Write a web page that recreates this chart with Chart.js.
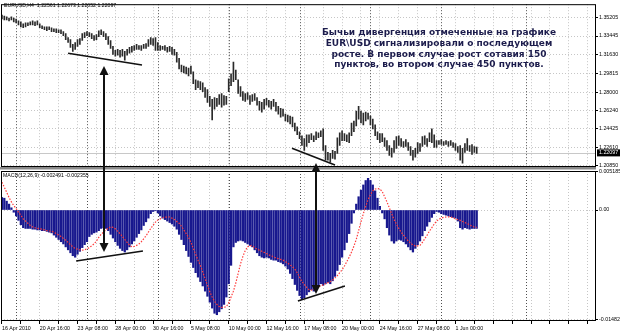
<!DOCTYPE html>
<html>
<head>
<meta charset="utf-8">
<script src="https://cdn.jsdelivr.net/npm/chart.js@4.4.1/dist/chart.umd.min.js"></script>
<style>
  html, body { margin: 0; padding: 0; background: #fff; }
  #wrap { position: relative; width: 620px; height: 334px; overflow: hidden; }
  #wrap canvas { position: absolute; left: 0; top: 0; }
  #note {
    position: absolute; left: 289px; top: 27px; width: 300px; z-index: 3;
    text-align: center; font: bold 9px/10.8px "DejaVu Sans"; color: #1c1c4c;
  }
</style>
</head>
<body>
<div id="wrap">
  <canvas id="price" width="620" height="334"></canvas>
  <canvas id="macd" width="620" height="334"></canvas>
  <div id="note">Бычьи дивергенция отмеченные на графике<br>EUR\USD сигнализировали о последующем<br>росте. В первом случае рост сотавия 150<br>пунктов, во втором случае 450 пунктов.</div>
</div>
<script>
// H4 bars, 16 Apr 2010 .. 2 Jun 2010
const timeLabels = ['16 Apr 2010', '20 Apr 16:00', '23 Apr 08:00', '28 Apr 00:00', '30 Apr 16:00',
  '5 May 08:00', '10 May 00:00', '12 May 16:00', '17 May 08:00', '20 May 00:00',
  '24 May 16:00', '27 May 08:00', '1 Jun 00:00'];

const hi = [
  1.3549, 1.3539, 1.3530, 1.3520, 1.3530, 1.3520, 1.3510, 1.3491, 1.3482, 1.3463,
  1.3472, 1.3472, 1.3482, 1.3491, 1.3482, 1.3491, 1.3463, 1.3444, 1.3434, 1.3434,
  1.3434, 1.3425, 1.3415, 1.3415, 1.3406, 1.3406, 1.3387, 1.3368, 1.3329, 1.3310,
  1.3263, 1.3282, 1.3310, 1.3320, 1.3368, 1.3377, 1.3387, 1.3377, 1.3368, 1.3349,
  1.3358, 1.3396, 1.3406, 1.3387, 1.3368, 1.3339, 1.3301, 1.3244, 1.3206, 1.3215,
  1.3206, 1.3215, 1.3196, 1.3215, 1.3234, 1.3244, 1.3253, 1.3263, 1.3253, 1.3253,
  1.3263, 1.3272, 1.3310, 1.3329, 1.3320, 1.3329, 1.3282, 1.3253, 1.3244, 1.3253,
  1.3234, 1.3244, 1.3234, 1.3215, 1.3187, 1.3129, 1.3063, 1.3053, 1.3044, 1.3034,
  1.3053, 1.2996, 1.2920, 1.2910, 1.2901, 1.2891, 1.2843, 1.2824, 1.2758, 1.2729,
  1.2748, 1.2739, 1.2777, 1.2786, 1.2767, 1.2758, 1.2929, 1.2977, 1.3091, 1.3015,
  1.2920, 1.2853, 1.2805, 1.2786, 1.2795, 1.2767, 1.2777, 1.2786, 1.2748, 1.2710,
  1.2700, 1.2729, 1.2739, 1.2720, 1.2710, 1.2729, 1.2700, 1.2662, 1.2643, 1.2634,
  1.2586, 1.2577, 1.2567, 1.2557, 1.2500, 1.2462, 1.2415, 1.2376, 1.2348, 1.2386,
  1.2386, 1.2396, 1.2376, 1.2415, 1.2405, 1.2424, 1.2443, 1.2281, 1.2214, 1.2205,
  1.2234, 1.2224, 1.2357, 1.2405, 1.2424, 1.2396, 1.2386, 1.2405, 1.2500, 1.2519,
  1.2615, 1.2662, 1.2615, 1.2596, 1.2605, 1.2596, 1.2567, 1.2538, 1.2481, 1.2415,
  1.2396, 1.2396, 1.2357, 1.2329, 1.2281, 1.2253, 1.2329, 1.2367, 1.2376, 1.2348,
  1.2319, 1.2338, 1.2310, 1.2272, 1.2234, 1.2253, 1.2310, 1.2300, 1.2367, 1.2376,
  1.2348, 1.2405, 1.2443, 1.2386, 1.2329, 1.2329, 1.2338, 1.2319, 1.2329, 1.2319,
  1.2329, 1.2310, 1.2300, 1.2272, 1.2281, 1.2253, 1.2300, 1.2348, 1.2281, 1.2291,
  1.2272, 1.2267];

const lo = [
  1.3510, 1.3501, 1.3501, 1.3491, 1.3501, 1.3482, 1.3472, 1.3453, 1.3434, 1.3425,
  1.3434, 1.3444, 1.3453, 1.3453, 1.3444, 1.3453, 1.3425, 1.3415, 1.3406, 1.3396,
  1.3406, 1.3387, 1.3387, 1.3377, 1.3377, 1.3368, 1.3349, 1.3310, 1.3282, 1.3234,
  1.3196, 1.3215, 1.3244, 1.3263, 1.3301, 1.3329, 1.3349, 1.3339, 1.3320, 1.3301,
  1.3310, 1.3339, 1.3358, 1.3339, 1.3310, 1.3263, 1.3225, 1.3167, 1.3148, 1.3158,
  1.3139, 1.3148, 1.3110, 1.3158, 1.3177, 1.3187, 1.3206, 1.3215, 1.3215, 1.3206,
  1.3225, 1.3225, 1.3244, 1.3263, 1.3253, 1.3206, 1.3206, 1.3206, 1.3215, 1.3206,
  1.3187, 1.3196, 1.3167, 1.3158, 1.3091, 1.3024, 1.2996, 1.2986, 1.2977, 1.2958,
  1.2977, 1.2882, 1.2824, 1.2843, 1.2824, 1.2805, 1.2748, 1.2700, 1.2662, 1.2529,
  1.2634, 1.2662, 1.2681, 1.2653, 1.2672, 1.2681, 1.2805, 1.2863, 1.2901, 1.2920,
  1.2786, 1.2758, 1.2720, 1.2710, 1.2729, 1.2681, 1.2710, 1.2720, 1.2672, 1.2624,
  1.2605, 1.2634, 1.2672, 1.2653, 1.2634, 1.2662, 1.2615, 1.2586, 1.2557, 1.2567,
  1.2519, 1.2510, 1.2491, 1.2462, 1.2424, 1.2386, 1.2348, 1.2281, 1.2234, 1.2272,
  1.2310, 1.2338, 1.2319, 1.2338, 1.2357, 1.2367, 1.2234, 1.2138, 1.2138, 1.2119,
  1.2157, 1.2148, 1.2205, 1.2281, 1.2329, 1.2329, 1.2319, 1.2310, 1.2376, 1.2415,
  1.2472, 1.2538, 1.2500, 1.2481, 1.2519, 1.2538, 1.2481, 1.2443, 1.2376, 1.2338,
  1.2310, 1.2319, 1.2272, 1.2234, 1.2186, 1.2167, 1.2214, 1.2253, 1.2281, 1.2272,
  1.2262, 1.2272, 1.2234, 1.2186, 1.2138, 1.2167, 1.2205, 1.2224, 1.2272, 1.2291,
  1.2272, 1.2319, 1.2310, 1.2262, 1.2262, 1.2291, 1.2291, 1.2281, 1.2291, 1.2272,
  1.2281, 1.2262, 1.2234, 1.2214, 1.2138, 1.2110, 1.2214, 1.2234, 1.2224, 1.2195,
  1.2214, 1.2205];

const macd = [
  0.0017, 0.0016, 0.0012, 0.0008, 0.0003, -0.0003, -0.0008, -0.0014, -0.0020, -0.0024,
  -0.0025, -0.0025, -0.0025, -0.0026, -0.0026, -0.0027, -0.0027, -0.0028, -0.0028, -0.0029,
  -0.0030, -0.0031, -0.0034, -0.0037, -0.0040, -0.0043, -0.0046, -0.0050, -0.0054, -0.0058,
  -0.0062, -0.0064, -0.0060, -0.0056, -0.0051, -0.0047, -0.0043, -0.0036, -0.0033, -0.0031,
  -0.0030, -0.0028, -0.0025, -0.0024, -0.0025, -0.0028, -0.0033, -0.0038, -0.0043, -0.0048,
  -0.0052, -0.0055, -0.0057, -0.0054, -0.0050, -0.0046, -0.0042, -0.0037, -0.0032, -0.0027,
  -0.0021, -0.0016, -0.0011, -0.0005, -0.0002, -0.0001, -0.0004, -0.0008, -0.0011, -0.0013,
  -0.0015, -0.0017, -0.0019, -0.0022, -0.0026, -0.0033, -0.0040, -0.0047, -0.0055, -0.0063,
  -0.0071, -0.0078, -0.0085, -0.0091, -0.0097, -0.0103, -0.0110, -0.0117, -0.0125, -0.0133,
  -0.0140, -0.0142, -0.0138, -0.0134, -0.0128, -0.0118, -0.0100, -0.0075, -0.0050, -0.0044,
  -0.0042, -0.0041, -0.0042, -0.0044, -0.0046, -0.0048, -0.0050, -0.0054, -0.0058, -0.0062,
  -0.0064, -0.0065, -0.0064, -0.0065, -0.0067, -0.0068, -0.0068, -0.0070, -0.0071, -0.0073,
  -0.0076, -0.0080, -0.0086, -0.0093, -0.0101, -0.0109, -0.0116, -0.0121, -0.0119, -0.0115,
  -0.0111, -0.0108, -0.0110, -0.0108, -0.0104, -0.0100, -0.0102, -0.0100, -0.0098, -0.0100,
  -0.0096, -0.0090, -0.0082, -0.0074, -0.0064, -0.0054, -0.0044, -0.0032, -0.0018, -0.0004,
  0.0008, 0.0018, 0.0027, 0.0034, 0.0040, 0.0043, 0.0040, 0.0034, 0.0026, 0.0016,
  0.0005, -0.0004, -0.0012, -0.0024, -0.0034, -0.0042, -0.0045, -0.0042, -0.0040, -0.0041,
  -0.0043, -0.0046, -0.0050, -0.0054, -0.0057, -0.0052, -0.0047, -0.0042, -0.0035, -0.0028,
  -0.0022, -0.0016, -0.0010, -0.0005, -0.0002, -0.0003, -0.0005, -0.0006, -0.0007, -0.0008,
  -0.0009, -0.0010, -0.0011, -0.0015, -0.0024, -0.0026, -0.0024, -0.0025, -0.0026, -0.0025,
  -0.0025, -0.00249];

const signal = [
  0.00377, 0.0031, 0.0024, 0.0017, 0.0011, 0.0006, 0.0002, -0.0003, -0.0007, -0.0012,
  -0.0015, -0.0018, -0.0021, -0.0023, -0.0024, -0.0025, -0.00255, -0.0026, -0.0027, -0.0028,
  -0.00285, -0.0029, -0.0030, -0.0032, -0.0034, -0.0036, -0.00385, -0.0041, -0.0044, -0.0047,
  -0.0050, -0.0052, -0.0053, -0.0054, -0.00545, -0.0054, -0.00525, -0.0051, -0.00485, -0.0046,
  -0.0042, -0.0037, -0.0033, -0.0030, -0.0027, -0.00245, -0.0023, -0.00235, -0.00255, -0.0029,
  -0.0032, -0.0036, -0.0040, -0.0044, -0.00475, -0.0050, -0.00495, -0.0048, -0.0046, -0.0043,
  -0.0039, -0.0035, -0.0030, -0.0025, -0.00205, -0.00165, -0.00135, -0.0012, -0.00105, -0.00098,
  -0.00095, -0.00095, -0.0011, -0.0013, -0.00155, -0.0018, -0.0022, -0.0027, -0.0032, -0.0037,
  -0.0044, -0.0052, -0.0060, -0.0068, -0.0075, -0.0084, -0.0093, -0.0102, -0.0111, -0.0118,
  -0.0124, -0.0128, -0.0131, -0.0132, -0.0132, -0.0131, -0.0126, -0.0118, -0.0110, -0.0099,
  -0.0086, -0.0073, -0.0063, -0.0055, -0.0050, -0.0048, -0.0049, -0.0051, -0.0053, -0.00545,
  -0.0056, -0.00575, -0.0059, -0.0061, -0.0062, -0.00635, -0.0065, -0.0066, -0.0067, -0.0068,
  -0.0070, -0.0072, -0.00745, -0.0077, -0.0080, -0.0085, -0.0091, -0.0097, -0.0101, -0.0105,
  -0.0108, -0.01085, -0.0108, -0.0106, -0.01045, -0.0103, -0.01015, -0.0100, -0.00985, -0.0097,
  -0.0095, -0.0092, -0.0089, -0.0085, -0.0081, -0.0076, -0.0070, -0.0064, -0.0057, -0.0049,
  -0.0040, -0.0028, -0.0016, -0.0005, 0.0005, 0.0014, 0.0021, 0.0026, 0.00285, 0.0029,
  0.00285, 0.0025, 0.0018, 0.0011, 0.0003, -0.0005, -0.0013, -0.0019, -0.0025, -0.0030,
  -0.0034, -0.0038, -0.0042, -0.0045, -0.00475, -0.00485, -0.00485, -0.00478, -0.0044, -0.0039,
  -0.0034, -0.00285, -0.0024, -0.0019, -0.0015, -0.00125, -0.0011, -0.0010, -0.00095, -0.00093,
  -0.00095, -0.00105, -0.0012, -0.0013, -0.0014, -0.00155, -0.0017, -0.00185, -0.0020, -0.0022,
  -0.0023, -0.002355];

const priceTicks = [1.35205, 1.33445, 1.31630, 1.29815, 1.28000, 1.26240, 1.24425, 1.22610, 1.20850];
const priceTickLabels = ['1.35205', '1.33445', '1.31630', '1.29815', '1.28000', '1.26240', '1.24425', '1.22610', '1.20850'];
const macdTicks = [0.005185, 0, -0.01482];
const macdTickLabels = ['0.005185', '0.00', '-0.01482'];
const bidPrice = 1.22097;
const weekStarts = [6, 36, 66, 96, 126, 156, 186, 222];

const X_MIN = -0.4, X_MAX = 251.5;
const small = { family: 'Liberation Sans', size: 5.3 };
const gridLine = { color: '#c6c6c6', lineWidth: 1, offset: false };
const dotBorder = { display: false, dash: [1, 2] };

function gridTicks() {
  const t = [];
  for (let v = 0; v <= 248; v += 8) t.push({ value: v });
  return t;
}

function separators(chart) {
  const { ctx, chartArea: a, scales: { x } } = chart;
  ctx.save();
  ctx.strokeStyle = '#505050';
  ctx.lineWidth = 1;
  ctx.setLineDash([1, 2]);
  weekStarts.forEach(b => {
    const px = Math.round(x.getPixelForValue(b)) + 0.5;
    ctx.beginPath(); ctx.moveTo(px, a.top); ctx.lineTo(px, a.bottom); ctx.stroke();
  });
  ctx.restore();
}

function frame(chart) {
  const { ctx, chartArea: a } = chart;
  ctx.save();
  ctx.strokeStyle = '#000';
  ctx.lineWidth = 1;
  ctx.strokeRect(a.left + 0.5, a.top + 0.5, a.width - 1, a.height - 1);
  ctx.restore();
}

const priceChart = new Chart(document.getElementById('price'), {
  type: 'bar',
  data: {
    datasets: [{
      data: hi.map((h, i) => ({ x: i, y: [lo[i], h] })),
      backgroundColor: '#2a2a2a',
      barThickness: 1,
      borderWidth: 0,
    }],
  },
  options: {
    responsive: false,
    animation: false,
    events: [],
    layout: { padding: { left: 1, top: 1, right: 0, bottom: 167 } },
    plugins: { legend: { display: false }, tooltip: { enabled: false } },
    scales: {
      x: {
        type: 'linear', min: X_MIN, max: X_MAX, offset: false,
        afterBuildTicks: s => { s.ticks = gridTicks(); },
        ticks: { display: false },
        grid: { ...gridLine, drawTicks: false },
        border: dotBorder,
        afterFit: s => { s.height = 0; },
      },
      y: {
        position: 'right', min: 1.20726, max: 1.36539,
        afterBuildTicks: s => { s.ticks = priceTicks.map(v => ({ value: v })); },
        ticks: { font: small, color: '#000', padding: 1, crossAlign: 'near',
          callback: (v, i) => priceTickLabels[i] },
        grid: { ...gridLine, tickLength: 2, tickBorderDash: [], tickColor: '#000' },
        border: dotBorder,
        afterFit: s => { s.width = 24; },
      },
    },
  },
  plugins: [{
    id: 'mt4price',
    beforeDatasetsDraw(chart) {
      const { ctx, chartArea: a, scales: { y } } = chart;
      separators(chart);
      const by = Math.round(y.getPixelForValue(bidPrice)) + 0.5;
      ctx.save();
      ctx.strokeStyle = '#c8c8c8';
      ctx.beginPath(); ctx.moveTo(a.left, by); ctx.lineTo(a.right, by); ctx.stroke();
      ctx.restore();
    },
    afterDraw(chart) {
      const { ctx, chartArea: a, scales: { y } } = chart;
      frame(chart);
      ctx.save();
      ctx.fillStyle = '#8a8a8a';
      ctx.fillRect(0, a.bottom, a.right, 2.5);
      const by = y.getPixelForValue(bidPrice);
      ctx.fillStyle = '#000';
      ctx.fillRect(a.right + 1, by - 3.5, 23, 7);
      ctx.font = '5.3px "Liberation Sans"';
      ctx.textBaseline = 'middle';
      ctx.fillStyle = '#fff';
      ctx.fillText('1.22097', a.right + 3, by);
      ctx.fillStyle = '#000';
      ctx.font = '5.2px "Liberation Sans"';
      ctx.fillText('EURUSD,H4  1.22561 1.22673 1.22052 1.22097', 4, 6);
      ctx.restore();
    },
  }],
});

function arrowHead(ctx, x, y, dir) {
  ctx.beginPath();
  ctx.moveTo(x, y);
  ctx.lineTo(x - 4.5, y + dir * 9);
  ctx.lineTo(x + 4.5, y + dir * 9);
  ctx.closePath();
  ctx.fill();
}

const macdChart = new Chart(document.getElementById('macd'), {
  data: {
    datasets: [
      {
        type: 'line',
        data: signal.map((v, i) => ({ x: i, y: v })),
        borderColor: '#ff3a3a', borderWidth: 1.2, borderDash: [1.5, 1.5],
        pointRadius: 0, tension: 0, order: 0,
      },
      {
        type: 'bar',
        data: macd.map((v, i) => ({ x: i, y: v })),
        backgroundColor: '#18188e', barThickness: 1.6, borderWidth: 0, order: 1,
      },
    ],
  },
  options: {
    responsive: false,
    animation: false,
    events: [],
    layout: { padding: { left: 1, top: 171, right: 0, bottom: 0 } },
    plugins: { legend: { display: false }, tooltip: { enabled: false } },
    scales: {
      x: {
        type: 'linear', min: X_MIN, max: X_MAX, offset: false,
        afterBuildTicks: s => { s.ticks = gridTicks(); },
        ticks: {
          font: small, color: '#000', align: 'start', autoSkip: false,
          maxRotation: 0, minRotation: 0, padding: 1,
          callback: v => (v % 16 === 0 && v / 16 < timeLabels.length) ? timeLabels[v / 16] : '',
        },
        grid: { ...gridLine, tickLength: 3, tickBorderDash: [], tickColor: '#000' },
        border: dotBorder,
        afterFit: s => { s.height = 13; },
      },
      y: {
        position: 'right', min: -0.01505, max: 0.00529,
        afterBuildTicks: s => { s.ticks = macdTicks.map(v => ({ value: v })); },
        ticks: { font: small, color: '#000', padding: 1, crossAlign: 'near',
          callback: (v, i) => macdTickLabels[i] },
        grid: { ...gridLine, tickLength: 2, tickBorderDash: [], tickColor: '#000' },
        border: dotBorder,
        afterFit: s => { s.width = 24; },
      },
    },
  },
  plugins: [{
    id: 'mt4macd',
    beforeDatasetsDraw(chart) { separators(chart); },
    afterDraw(chart) {
      const { ctx, scales: { x, y } } = chart;
      const py = priceChart.scales.y;
      frame(chart);
      ctx.save();
      ctx.fillStyle = '#000';
      ctx.font = '5.2px "Liberation Sans"';
      ctx.textBaseline = 'middle';
      ctx.fillText('MACD(12,26,9) -0.002491 -0.002355', 3, 175.5);

      // divergence lines
      ctx.strokeStyle = '#111';
      ctx.lineWidth = 1.6;
      const seg = (x1, y1, x2, y2) => {
        ctx.beginPath(); ctx.moveTo(x1, y1); ctx.lineTo(x2, y2); ctx.stroke();
      };
      seg(x.getPixelForValue(28.0), py.getPixelForValue(1.31776), x.getPixelForValue(59.3), py.getPixelForValue(1.30633));
      seg(x.getPixelForValue(122.8), py.getPixelForValue(1.22536), x.getPixelForValue(141.0), py.getPixelForValue(1.20917));
      seg(x.getPixelForValue(31.4), y.getPixelForValue(-0.00691), x.getPixelForValue(59.7), y.getPixelForValue(-0.00556));
      seg(x.getPixelForValue(125.3), y.getPixelForValue(-0.01234), x.getPixelForValue(145.2), y.getPixelForValue(-0.01030));

      // double arrows between price and MACD
      ctx.fillStyle = '#111';
      ctx.lineWidth = 2;
      [[43.2, 1.30538, -0.00569], [133.0, 1.21108, -0.01139]].forEach(([b, p, m]) => {
        const ax = Math.round(x.getPixelForValue(b));
        const y1 = py.getPixelForValue(p), y2 = y.getPixelForValue(m);
        seg(ax, y1 + 6, ax, y2 - 6);
        arrowHead(ctx, ax, y1, 1);
        arrowHead(ctx, ax, y2, -1);
      });
      ctx.restore();
    },
  }],
});
</script>
</body>
</html>
